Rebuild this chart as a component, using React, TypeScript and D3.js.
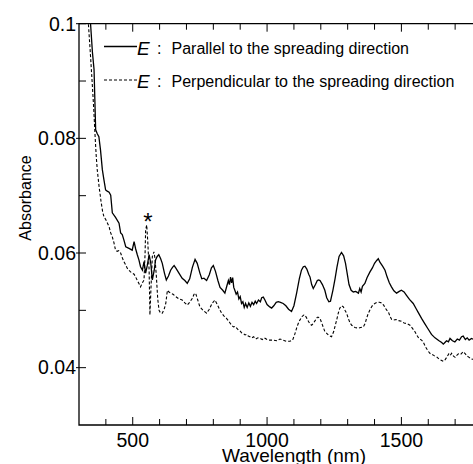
import React from "react";
import * as d3 from "d3";

// wavelength (nm), absorbance
const parallel: [number, number][] = [
  [330, 0.108], [343, 0.1], [350, 0.095], [356, 0.092], [362, 0.0815], [368, 0.0808], [374, 0.0803],
  [380, 0.078], [387, 0.0745], [393, 0.0727], [399, 0.071], [405, 0.0708], [412, 0.0706], [418, 0.0701],
  [424, 0.067], [436, 0.0662], [449, 0.0652], [455, 0.0635], [461, 0.0632], [467, 0.0623], [474, 0.0611],
  [486, 0.0608], [498, 0.0605], [505, 0.062], [511, 0.0607], [517, 0.0597], [523, 0.0588], [529, 0.0576],
  [536, 0.057], [542, 0.0585], [548, 0.0565], [554, 0.0578], [561, 0.0597], [567, 0.0583], [573, 0.0553],
  [580, 0.057], [585, 0.0588], [591, 0.0594], [597, 0.0597], [604, 0.059], [610, 0.0582], [618, 0.0565],
  [625, 0.0553], [633, 0.056], [641, 0.057], [648, 0.0575], [654, 0.0578], [660, 0.0574], [672, 0.0565],
  [684, 0.0556], [694, 0.0552], [703, 0.0547], [712, 0.0555], [722, 0.0575], [732, 0.0589], [740, 0.0582],
  [750, 0.0565], [757, 0.0555], [765, 0.0556], [775, 0.0552], [785, 0.0562], [793, 0.0574], [800, 0.0578],
  [808, 0.0568], [817, 0.0552], [825, 0.054], [835, 0.0535], [843, 0.053], [850, 0.0542], [856, 0.0552],
  [860, 0.0545], [864, 0.0558], [868, 0.0548], [872, 0.0557], [876, 0.054], [880, 0.0535], [885, 0.0528],
  [890, 0.0532], [895, 0.052], [900, 0.0524], [905, 0.0512], [910, 0.0515], [915, 0.0505], [920, 0.0512],
  [926, 0.0505], [932, 0.0513], [938, 0.0507], [944, 0.0514], [950, 0.051], [956, 0.0516], [961, 0.0512],
  [968, 0.0518], [975, 0.0515], [980, 0.0522], [986, 0.0523], [992, 0.0518], [1000, 0.051], [1010, 0.0506],
  [1017, 0.0504], [1025, 0.0508], [1034, 0.0514], [1042, 0.0515], [1050, 0.0514], [1060, 0.0512],
  [1070, 0.0508], [1080, 0.0502], [1091, 0.0498], [1100, 0.0508], [1110, 0.053], [1120, 0.0555],
  [1128, 0.057], [1135, 0.0576], [1141, 0.0577], [1148, 0.0572], [1155, 0.0563], [1160, 0.0558],
  [1166, 0.0545], [1172, 0.0538], [1180, 0.0545], [1187, 0.0552], [1192, 0.0553], [1197, 0.0552],
  [1206, 0.0545], [1215, 0.0535], [1222, 0.0522], [1230, 0.0515], [1236, 0.0516], [1245, 0.0535],
  [1253, 0.0555], [1260, 0.0575], [1268, 0.0594], [1277, 0.0601], [1285, 0.0595], [1292, 0.0582],
  [1298, 0.0565], [1305, 0.0545], [1313, 0.0535], [1321, 0.0532], [1330, 0.0533], [1340, 0.053],
  [1345, 0.0538], [1350, 0.0532], [1355, 0.0542], [1364, 0.0547], [1372, 0.0557], [1383, 0.0567],
  [1392, 0.0574], [1400, 0.0582], [1408, 0.0587], [1414, 0.059], [1420, 0.0584], [1430, 0.0577],
  [1439, 0.057], [1447, 0.0558], [1455, 0.0548], [1463, 0.0541], [1472, 0.0534], [1482, 0.053],
  [1492, 0.0533], [1500, 0.0535], [1510, 0.0532], [1519, 0.0526], [1530, 0.0519], [1544, 0.0512],
  [1556, 0.0502], [1563, 0.0496], [1575, 0.0486], [1588, 0.0476], [1600, 0.0467], [1612, 0.0458],
  [1625, 0.0452], [1640, 0.0447], [1650, 0.0444], [1656, 0.0441], [1662, 0.0444], [1668, 0.0447],
  [1675, 0.0445], [1681, 0.0451], [1690, 0.0447], [1699, 0.0445], [1708, 0.045], [1716, 0.0448],
  [1724, 0.0454], [1730, 0.0455], [1738, 0.0449], [1745, 0.0452], [1752, 0.0448], [1761, 0.0451],
  [1775, 0.0448], [1790, 0.0447],
];

const perpendicular: [number, number][] = [
  [325, 0.106], [335, 0.1], [342, 0.095], [350, 0.089], [355, 0.085], [360, 0.0803], [364, 0.077],
  [368, 0.0745], [375, 0.0715], [382, 0.069], [388, 0.0672], [393, 0.0663], [400, 0.0658], [406, 0.0652],
  [412, 0.0646], [418, 0.0635], [424, 0.0628], [430, 0.0618], [436, 0.0605], [442, 0.0603], [448, 0.0604],
  [455, 0.06], [461, 0.0592], [467, 0.0585], [473, 0.058], [480, 0.0573], [486, 0.057], [492, 0.0567],
  [498, 0.0565], [505, 0.0563], [511, 0.0558], [517, 0.0552], [523, 0.0547], [529, 0.0541], [536, 0.0548],
  [542, 0.0553], [546, 0.06], [548, 0.064], [552, 0.0649], [556, 0.062], [561, 0.057], [564, 0.0492],
  [568, 0.054], [573, 0.0594], [579, 0.0602], [583, 0.059], [588, 0.0559], [593, 0.052], [598, 0.05],
  [604, 0.0495], [610, 0.0495], [617, 0.0502], [623, 0.0512], [629, 0.0535], [635, 0.0532], [641, 0.053],
  [650, 0.0528], [660, 0.0524], [672, 0.052], [684, 0.0518], [694, 0.0513], [703, 0.0509], [712, 0.0514],
  [722, 0.0521], [728, 0.0528], [734, 0.053], [742, 0.0518], [750, 0.0506], [762, 0.05], [775, 0.0495],
  [785, 0.0502], [795, 0.0512], [806, 0.0518], [815, 0.051], [823, 0.0502], [831, 0.0495], [840, 0.049],
  [849, 0.0486], [856, 0.0482], [862, 0.0478], [868, 0.0474], [875, 0.0471], [881, 0.0472], [887, 0.0469],
  [893, 0.0466], [899, 0.0464], [905, 0.0461], [911, 0.046], [918, 0.0457], [924, 0.0458], [930, 0.0455],
  [936, 0.0454], [943, 0.0452], [950, 0.0454], [958, 0.045], [966, 0.0452], [974, 0.0451], [982, 0.0449],
  [990, 0.0452], [1000, 0.0449], [1010, 0.0448], [1023, 0.0448], [1035, 0.0447], [1048, 0.045],
  [1060, 0.0448], [1072, 0.0446], [1085, 0.0446], [1095, 0.0448], [1103, 0.0458], [1110, 0.0469],
  [1116, 0.0477], [1122, 0.0483], [1130, 0.0489], [1137, 0.0492], [1141, 0.0492], [1148, 0.0486],
  [1155, 0.048], [1160, 0.0476], [1166, 0.0474], [1172, 0.0477], [1180, 0.0483], [1187, 0.0488],
  [1191, 0.0488], [1197, 0.0486], [1205, 0.0476], [1215, 0.0463], [1222, 0.046], [1230, 0.0456],
  [1240, 0.0454], [1248, 0.0463], [1254, 0.0474], [1259, 0.0483], [1265, 0.0495], [1271, 0.0504],
  [1277, 0.0508], [1284, 0.0506], [1290, 0.05], [1296, 0.0495], [1303, 0.0485], [1309, 0.0478],
  [1315, 0.0474], [1327, 0.047], [1340, 0.0469], [1348, 0.047], [1358, 0.0471], [1365, 0.0477],
  [1371, 0.0487], [1377, 0.0495], [1385, 0.0503], [1393, 0.0509], [1401, 0.0512], [1410, 0.0514],
  [1418, 0.0514], [1426, 0.0513], [1434, 0.0509], [1440, 0.0504], [1446, 0.05], [1451, 0.0498],
  [1458, 0.0489], [1464, 0.0484], [1470, 0.0483], [1480, 0.0484], [1490, 0.0482], [1500, 0.0481],
  [1510, 0.0478], [1520, 0.0477], [1532, 0.0474], [1542, 0.0468], [1550, 0.0463], [1557, 0.0457],
  [1565, 0.0451], [1575, 0.0448], [1581, 0.0445], [1590, 0.0436], [1598, 0.043], [1606, 0.0425],
  [1614, 0.0423], [1622, 0.0421], [1631, 0.0419], [1640, 0.0415], [1648, 0.0413], [1656, 0.0411],
  [1663, 0.0414], [1670, 0.0419], [1676, 0.0424], [1681, 0.0421], [1687, 0.0425], [1694, 0.042],
  [1700, 0.0418], [1705, 0.0421], [1712, 0.0424], [1720, 0.0423], [1730, 0.0428], [1738, 0.0424],
  [1745, 0.042], [1752, 0.0418], [1761, 0.0415], [1775, 0.0414], [1790, 0.0413],
];

const xMajor = [500, 1000, 1500];
const xMinor = d3.range(400, 1800, 100);
const yMajor = [0.04, 0.06, 0.08, 0.1];
const yMinor = [0.05, 0.07, 0.09];
const legendText = [
  "Parallel to the spreading direction",
  "Perpendicular to the spreading direction",
];

const W = 473;
const H = 464;
const left = 79, top = 23.7, right = 482, bottom = 425;
const font = "Liberation Sans, Arial, Helvetica, sans-serif";

const App = () => {
  const x = d3.scaleLinear().domain([300, 1800]).range([left, right]);
  const y = d3.scaleLinear().domain([0.03, 0.1]).range([bottom, top]);
  const line = d3.line<[number, number]>().x(d => x(d[0])).y(d => y(d[1]));

  return (
    <svg width={W} height={H} style={{ position: "absolute", left: 0, top: 0, background: "#fff" }}
      fontFamily={font}>
      <defs>
        <clipPath id="plot">
          <rect x={left} y={top} width={right - left} height={bottom - top} />
        </clipPath>
      </defs>

      {/* frame */}
      <path d={`M${left},${bottom}V${top}H${right}V${bottom}Z`} fill="none" stroke="#000" strokeWidth={1.3} />

      {/* x ticks, bottom up and top down */}
      {xMinor.map(v => {
        const len = xMajor.includes(v) ? 8 : 6;
        return (
          <g key={v} stroke="#000" strokeWidth={1}>
            <line x1={x(v)} x2={x(v)} y1={bottom} y2={bottom - len} />
            <line x1={x(v)} x2={x(v)} y1={top} y2={top + len} />
          </g>
        );
      })}
      {xMajor.map(v => (
        <text key={v} x={x(v)} y={447} textAnchor="middle" fontSize={19.5}>{v}</text>
      ))}

      {/* y ticks */}
      {yMajor.map(v => (
        <g key={v}>
          <line x1={left - 3} x2={left + 7} y1={y(v)} y2={y(v)} stroke="#000" strokeWidth={1} />
          <text x={76} y={y(v)} dy="0.35em" textAnchor="end" fontSize={19.5}>{v === 0.1 ? "0.1" : v.toFixed(2)}</text>
        </g>
      ))}
      {yMinor.map(v => (
        <line key={v} x1={left} x2={left + 7} y1={y(v)} y2={y(v)} stroke="#000" strokeWidth={1} />
      ))}

      {/* axis titles */}
      <text x={222} y={462} fontSize={19}>Wavelength (nm)</text>
      <text transform="translate(31,198) rotate(-90)" textAnchor="middle" fontSize={16}>Absorbance</text>

      {/* spectra */}
      <g clipPath="url(#plot)" fill="none" stroke="#000">
        <path d={line(parallel) || ""} strokeWidth={1.3} />
        <path d={line(perpendicular) || ""} strokeWidth={1.1} strokeDasharray="3,2" />
      </g>

      <text x={148} y={230} textAnchor="middle" fontSize={24}>*</text>

      {/* legend */}
      <line x1={104} x2={137} y1={46.5} y2={46.5} stroke="#000" strokeWidth={1.6} />
      <text x={137} y={55} fontSize={19} fontStyle="italic">E</text>
      <text x={157} y={54} fontSize={16}>:</text>
      <text x={171.5} y={54} fontSize={16}>{legendText[0]}</text>
      <line x1={104} x2={137} y1={80} y2={80} stroke="#000" strokeWidth={1.1} strokeDasharray="3,2" />
      <text x={137} y={87.5} fontSize={19} fontStyle="italic">E</text>
      <text x={157} y={86.5} fontSize={16}>:</text>
      <text x={171.5} y={86.5} fontSize={16}>{legendText[1]}</text>
    </svg>
  );
};

export default App;
